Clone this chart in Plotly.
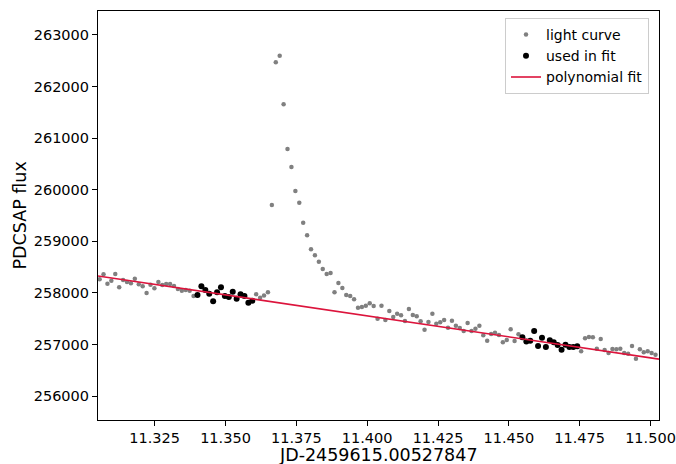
import numpy as np
import plotly.graph_objects as go

# Light curve: time (JD - 2459615.00527847) and PDCSAP flux
time = [
    11.30557, 11.30695, 11.30833, 11.30971, 11.31110, 11.31248, 11.31386, 11.31524, 11.31662, 11.31800,
    11.31939, 11.32077, 11.32215, 11.32353, 11.32491, 11.32630, 11.32768, 11.32906, 11.33044, 11.33182,
    11.33320, 11.33459, 11.33597, 11.33735, 11.33873, 11.34011, 11.34149, 11.34288, 11.34426, 11.34564,
    11.34702, 11.34840, 11.34978, 11.35117, 11.35255, 11.35393, 11.35531, 11.35669, 11.35807, 11.35946,
    11.36084, 11.36222, 11.36360, 11.36498, 11.36636, 11.36775, 11.36913, 11.37051, 11.37189, 11.37327,
    11.37466, 11.37604, 11.37742, 11.37880, 11.38018, 11.38156, 11.38295, 11.38433, 11.38571, 11.38709,
    11.38847, 11.38985, 11.39124, 11.39262, 11.39400, 11.39538, 11.39676, 11.39814, 11.39953, 11.40091,
    11.40229, 11.40367, 11.40505, 11.40643, 11.40782, 11.40920, 11.41058, 11.41196, 11.41334, 11.41473,
    11.41611, 11.41749, 11.41887, 11.42025, 11.42163, 11.42302, 11.42440, 11.42578, 11.42716, 11.42854,
    11.42992, 11.43131, 11.43269, 11.43407, 11.43545, 11.43683, 11.43821, 11.43960, 11.44098, 11.44236,
    11.44374, 11.44512, 11.44650, 11.44789, 11.44927, 11.45065, 11.45203, 11.45341, 11.45479, 11.45618,
    11.45756, 11.45894, 11.46032, 11.46170, 11.46308, 11.46447, 11.46585, 11.46723, 11.46861, 11.46999,
    11.47137, 11.47276, 11.47414, 11.47552, 11.47690, 11.47828, 11.47966, 11.48105, 11.48243, 11.48381,
    11.48519, 11.48657, 11.48795, 11.48934, 11.49072, 11.49210, 11.49348, 11.49486, 11.49625, 11.49763,
    11.49901, 11.50039, 11.50177,
]

flux = [
    258263, 258360, 258178, 258236, 258366, 258108, 258249, 258211, 258185, 258275,
    258166, 258127, 257997, 258158, 258089, 258211, 258152, 258172, 258172, 258133,
    258075, 258042, 258056, 258042, 257939, 257959, 258127, 258056, 257984, 257836,
    258011, 258108, 257939, 257920, 258023, 257887, 257972, 257939, 257809, 257848,
    257972, 257906, 257949, 258013, 259704, 262471, 262599, 261656, 260790, 260441,
    259975, 259748, 259360, 259116, 258845, 258728, 258604, 258463, 258366, 258385,
    258011, 258191, 258094, 257959, 257939, 257875, 257712, 257726, 257751, 257798,
    257745, 257499, 257751, 257474, 257648, 257532, 257596, 257565, 257454, 257687,
    257571, 257546, 257449, 257286, 257435, 257596, 257402, 257429, 257474, 257325,
    257460, 257363, 257319, 257261, 257416, 257261, 257305, 257363, 257177, 257072,
    257202, 257228, 257183, 257041, 257086, 257293, 257067, 257197, 257138, 257057,
    257072, 257261, 256970, 257131, 256950, 257080, 257041, 256989, 256898, 256995,
    256950, 256950, 256964, 256867, 257119, 257144, 257138, 256917, 257105, 256892,
    256834, 256912, 256906, 256917, 256834, 256820, 256970, 256723, 256906, 256848,
    256867, 256834, 256801,
]

# Out-of-flare windows used for the baseline fit (index ranges into the light curve)
fit_windows = [(25, 40), (108, 123)]

x_range = [11.3050, 11.5030]
y_range = [255535, 263465]

t = np.array(time)
f = np.array(flux)
mask = np.zeros(len(t), dtype=bool)
for a, b in fit_windows:
    mask[a:b] = True

coef = np.polyfit(t[mask], f[mask], 1)
t_line = np.linspace(x_range[0], x_range[1], 100)
f_line = np.polyval(coef, t_line)

fig = go.Figure()
fig.add_trace(go.Scatter(
    x=t, y=f, mode="markers", name="light curve",
    marker=dict(color="#808080", size=4.5, line=dict(width=0)),
))
fig.add_trace(go.Scatter(
    x=t[mask], y=f[mask], mode="markers", name="used in fit",
    marker=dict(color="black", size=6, line=dict(width=0)),
))
fig.add_trace(go.Scatter(
    x=t_line, y=f_line, mode="lines", name="polynomial fit",
    line=dict(color="#DC143C", width=1.6),
))

axis_common = dict(
    showgrid=False, zeroline=False, automargin=False,
    showline=True, linecolor="black", linewidth=1.1, mirror=True,
    ticks="outside", ticklen=5, tickwidth=1.1, tickcolor="black",
    tickfont=dict(family="DejaVu Sans", size=14.5, color="black"),
)

fig.update_layout(
    width=676, height=464,
    margin=dict(l=98, r=17, t=11, b=44),
    paper_bgcolor="white", plot_bgcolor="white",
    font=dict(family="DejaVu Sans", color="black"),
    xaxis=dict(
        range=x_range, tickvals=[11.325, 11.35, 11.375, 11.4, 11.425, 11.45, 11.475, 11.5],
        ticktext=["11.325", "11.350", "11.375", "11.400", "11.425", "11.450", "11.475", "11.500"],
        **axis_common,
    ),
    yaxis=dict(
        range=y_range, tick0=256000, dtick=1000, tickformat="d",
        **axis_common,
    ),
    legend=dict(
        x=1 - 10 / 561, y=1 - 7 / 409, xanchor="right", yanchor="top",
        bgcolor="white", bordercolor="#cccccc", borderwidth=1,
        font=dict(family="DejaVu Sans", size=14, color="black"),
    ),
    showlegend=True,
    annotations=[
        dict(text="JD-2459615.00527847", xref="paper", yref="paper",
             x=0.5, y=-35 / 409, xanchor="center", yanchor="middle",
             showarrow=False, font=dict(family="DejaVu Sans", size=17.5, color="black")),
        dict(text="PDCSAP flux", xref="paper", yref="paper",
             x=-79 / 561, y=0.5, xanchor="center", yanchor="middle", textangle=-90,
             showarrow=False, font=dict(family="DejaVu Sans", size=17.5, color="black")),
    ],
)

fig.write_html("out.html")
